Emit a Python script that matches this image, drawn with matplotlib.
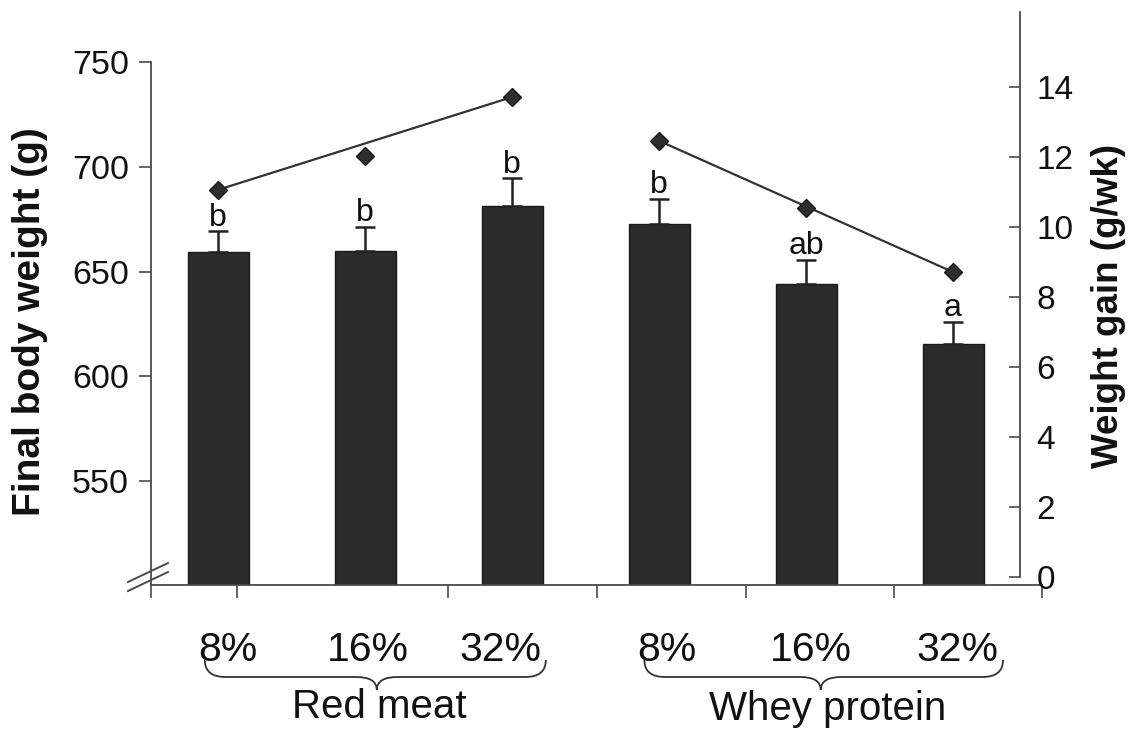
import matplotlib
matplotlib.use('Agg')
import matplotlib.pyplot as plt
import numpy as np
from matplotlib.path import Path
from matplotlib.patches import PathPatch
from matplotlib.lines import Line2D
import matplotlib.transforms as mtransforms

plt.rcParams['font.family'] = ['Liberation Sans', 'DejaVu Sans']

# ---- data ----
levels = ['8%', '16%', '32%', '8%', '16%', '32%']
groups = ['Red meat', 'Whey protein']
body_weight = [659.3, 659.8, 681.3, 672.7, 644.0, 615.4]
body_weight_se = [10.0, 11.5, 13.3, 12.0, 11.5, 10.5]
sig_letters = ['b', 'b', 'b', 'b', 'ab', 'a']
weight_gain = [11.06, 12.03, 13.71, 12.46, 10.54, 8.71]
left_ticks = [550, 600, 650, 700, 750]
right_ticks = [0, 2, 4, 6, 8, 10, 12, 14]

W, H = 1129, 730
fig = plt.figure(figsize=(W / 100, H / 100), dpi=100)


def fx(px):
    return px / W


def fy(py):
    return 1 - py / H


SPINE = '#4a4a4a'
BAR = '#2b2b2b'
TXT = '#111111'

ax = fig.add_axes([fx(151), fy(585), fx(1042) - fx(151), fy(62) - fy(585)])
ax2 = fig.add_axes([fx(151), fy(585), fx(1042) - fx(151), fy(12) - fy(585)])
ax2.patch.set_visible(False)

x = np.arange(len(body_weight))
xlim = (-0.456, 5.605)

# ---- bars ----
ax.bar(x, body_weight, width=0.415, color=BAR, edgecolor='#1a1a1a', linewidth=1.0, zorder=2)
ax.errorbar(x, body_weight, yerr=[np.zeros(len(x)), body_weight_se], fmt='none',
            ecolor='#222222', elinewidth=1.8, capsize=7, capthick=1.8, zorder=3)
for xi, m, e, s in zip(x, body_weight, body_weight_se, sig_letters):
    ax.annotate(s, (xi, m + e), xytext=(0, 4), textcoords='offset points',
                ha='center', va='baseline', fontsize=23, color=TXT)

ax.set_xlim(*xlim)
ax.set_ylim(500.4, 750)
for s in ['top', 'right']:
    ax.spines[s].set_visible(False)
for s in ['left', 'bottom']:
    ax.spines[s].set_color(SPINE)
    ax.spines[s].set_linewidth(1.3)
ax.set_yticks(left_ticks)
ax.set_yticklabels([str(t) for t in left_ticks])
ax.tick_params(axis='y', direction='out', length=9, width=1.2, color=SPINE,
               labelsize=24.5, pad=7, labelcolor=TXT)
ax.set_xticks([xlim[0], 0.13, 1.565, 2.58, 3.59, 4.60, xlim[1]])
ax.set_xticklabels([])
ax.tick_params(axis='x', which='major', direction='out', length=9, width=1.2, color=SPINE)
ax.set_xticks(x + np.array([0.07, 0.02, -0.08, 0.05, 0.03, 0.03]), levels, minor=True)
ax.tick_params(axis='x', which='minor', length=0, pad=33, labelsize=29.5, labelcolor=TXT)

# ---- weight gain (right axis) ----
ax2.set_xlim(*xlim)
ax2.set_ylim(-0.229, 16.14)
ax2.plot(x, weight_gain, linestyle='none', marker='D', markersize=9.5,
         color='#2e2e2e', markeredgecolor='#1a1a1a', zorder=4)
for g in range(len(groups)):
    i0, i1 = 3 * g, 3 * g + 2
    ax2.plot([x[i0], x[i1]], [weight_gain[i0], weight_gain[i1]],
             color='#333333', linewidth=1.6, zorder=3)
for s in ['top', 'left', 'bottom']:
    ax2.spines[s].set_visible(False)
ax2.spines['right'].set_position(('axes', (1020 - 151) / (1042 - 151)))
ax2.spines['right'].set_bounds(0, 16.14)
ax2.spines['right'].set_color(SPINE)
ax2.spines['right'].set_linewidth(1.3)
ax2.set_xticks([])
ax2.yaxis.set_ticks_position('right')
ax2.set_yticks(right_ticks)
ax2.set_yticklabels([str(t) for t in right_ticks])
ax2.tick_params(axis='y', direction='in', length=8, width=1.2, color=SPINE,
                labelsize=24, pad=12, labelcolor=TXT)

# ---- axis titles ----
fig.text(fx(30), fy(322), 'Final body weight (g)', rotation=90, ha='center', va='center',
         fontsize=28, fontweight='bold', color=TXT)
fig.text(fx(1108), fy(306), 'Weight gain (g/wk)', rotation=90, ha='center', va='center',
         fontsize=26.5, fontweight='bold', color=TXT)

# ---- braces and group labels ----
bt = mtransforms.blended_transform_factory(ax.transData, fig.transFigure)


def brace(x0, x1, xm, r=0.14):
    ytop, ymid, ytip = fy(660), fy(677), fy(690)
    verts = [(x0, ytop), (x0, ymid), (x0 + r, ymid),
             (xm - r, ymid), (xm, ymid), (xm, ytip),
             (xm, ymid), (xm + r, ymid),
             (x1 - r, ymid), (x1, ymid), (x1, ytop)]
    codes = [Path.MOVETO, Path.CURVE3, Path.CURVE3,
             Path.LINETO, Path.CURVE3, Path.CURVE3,
             Path.CURVE3, Path.CURVE3,
             Path.LINETO, Path.CURVE3, Path.CURVE3]
    p = PathPatch(Path(verts, codes), transform=bt, fill=False,
                  edgecolor='#333333', linewidth=1.3, clip_on=False)
    fig.add_artist(p)


brace(-0.09, 2.23, 1.08)
brace(2.90, 5.34, 4.10)
ax.text(1.1, fy(707), groups[0], transform=bt, ha='center', va='center',
        fontsize=29, color=TXT, clip_on=False)
ax.text(4.15, fy(709), groups[1], transform=bt, ha='center', va='center',
        fontsize=29, color=TXT, clip_on=False)

# ---- axis break marks ----
for (xa, ya, xb, yb) in [(128, 582, 168, 563), (128, 591, 168, 572)]:
    fig.add_artist(Line2D([fx(xa), fx(xb)], [fy(ya), fy(yb)], transform=fig.transFigure,
                          color=SPINE, linewidth=1.4))

fig.savefig('out.png', dpi=100)
